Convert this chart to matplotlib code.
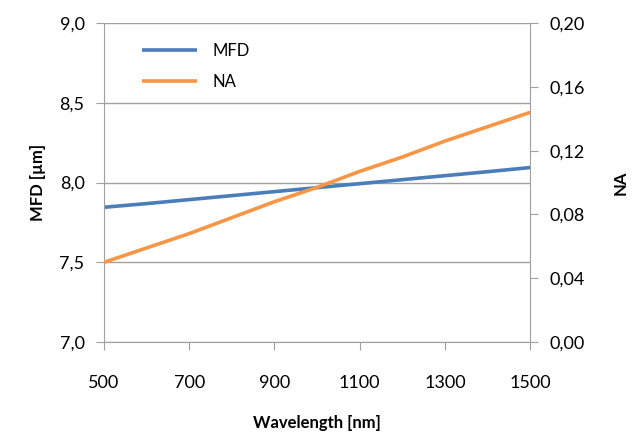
import matplotlib
matplotlib.use("Agg")
import matplotlib.pyplot as plt
from matplotlib.ticker import FuncFormatter, MultipleLocator

# values
WAVELENGTH = [500, 600, 700, 800, 900, 1000, 1100, 1200, 1300, 1400, 1500]
MFD = [7.845, 7.868, 7.893, 7.918, 7.943, 7.968, 7.993, 8.018, 8.043, 8.068, 8.094]
NA = [0.050, 0.059, 0.068, 0.078, 0.088, 0.097, 0.107, 0.116, 0.126, 0.135, 0.144]
XTICKS = [500, 700, 900, 1100, 1300, 1500]

plt.rcParams["font.family"] = ["Lato", "DejaVu Sans"]
BLUE = "#4a7ebb"
ORANGE = "#f79646"
GRID = "#a0a0a0"

fig = plt.figure(figsize=(6.4, 4.38), dpi=100)
ax = fig.add_axes([0.1625, 0.219, 0.666, 0.7285])
ax2 = ax.twinx()

l1, = ax.plot(WAVELENGTH, MFD, color=BLUE, lw=2.6, label="MFD", solid_capstyle="butt")
l2, = ax2.plot(WAVELENGTH, NA, color=ORANGE, lw=2.6, label="NA", solid_capstyle="butt")

ax.set_xlim(500, 1500)
ax.set_ylim(7.0, 9.0)
ax2.set_ylim(0.0, 0.20)
ax.set_xticks(XTICKS)
ax.yaxis.set_major_locator(MultipleLocator(0.5))
ax2.yaxis.set_major_locator(MultipleLocator(0.04))
ax.yaxis.set_major_formatter(FuncFormatter(lambda v, p: f"{v:.1f}".replace(".", ",")))
ax2.yaxis.set_major_formatter(FuncFormatter(lambda v, p: f"{v:.2f}".replace(".", ",")))

ax.grid(axis="y", color=GRID, lw=1)
for a in (ax, ax2):
    for s in a.spines.values():
        s.set_color(GRID)
    a.spines["top"].set_visible(False)
ax.spines["right"].set_visible(False)
ax2.spines["left"].set_visible(False)
ax2.spines["bottom"].set_visible(False)

ax.tick_params(axis="x", direction="out", length=6, color=GRID, labelsize=13, pad=18)
ax.tick_params(axis="y", direction="out", length=6, color=GRID, labelsize=13, pad=8)
ax2.tick_params(axis="y", direction="out", length=6, color=GRID, labelsize=13, pad=8)

ax.set_xlabel("Wavelength [nm]", fontsize=12, fontweight="bold", labelpad=17)
ax.set_ylabel("MFD [µm]", fontsize=12, fontweight="bold", labelpad=10)
ax2.set_ylabel("NA", fontsize=12, fontweight="bold", labelpad=20)

ax.legend([l1, l2], ["MFD", "NA"], loc="upper left", bbox_to_anchor=(0.055, 0.985),
          frameon=False, fontsize=12, handlelength=3.3, handletextpad=0.9,
          labelspacing=0.9)

fig.savefig("out.png", dpi=100)
